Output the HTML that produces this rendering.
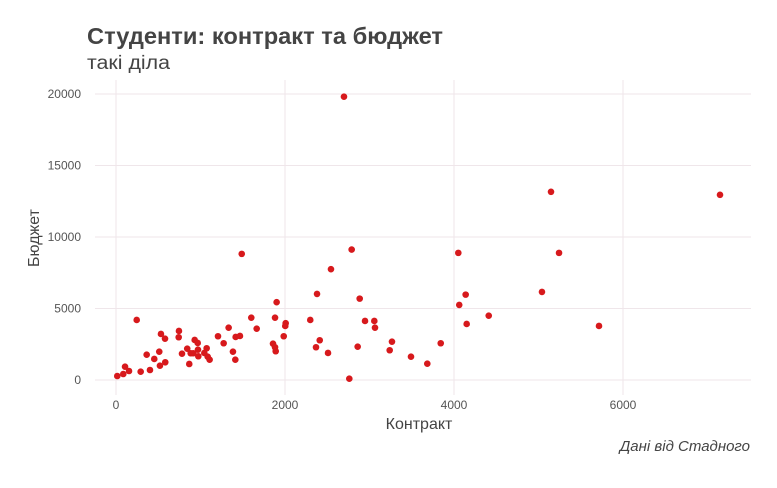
<!DOCTYPE html>
<html><head><meta charset="utf-8"><style>
body{margin:0;background:#fff;}
svg text{font-family:"Liberation Sans",sans-serif;}
</style></head><body>
<svg id="chart" width="777" height="483" viewBox="0 0 777 483" xmlns="http://www.w3.org/2000/svg">
<text x="87" y="44" font-size="23" font-weight="bold" fill="#444" textLength="356" lengthAdjust="spacingAndGlyphs">Студенти: контракт та бюджет</text>
<text x="87" y="69" font-size="19" fill="#444" textLength="83" lengthAdjust="spacingAndGlyphs">такі діла</text>
<g id="grid"></g>
<g id="points"></g>
<g id="ticks"></g>
<text x="419" y="429" font-size="16" fill="#444" text-anchor="middle">Контракт</text>
<text transform="translate(39,238) rotate(-90)" font-size="16" fill="#444" text-anchor="middle">Бюджет</text>
<text x="750" y="451" font-size="15" font-style="italic" fill="#444" text-anchor="end">Дані від Стадного</text>
</svg>
<script>
const xTicks=[0,2000,4000,6000];
const yTicks=[0,5000,10000,15000,20000];
const contract=[15,86,107,154,292,402,245,363,453,512,520,583,532,580,745,742,781,843,867,884,931,967,970,914,974,1045,1073,1085,1108,1207,1274,1333,1384,1412,1416,1467,1488,1601,1665,1882,1901,1858,1882,1890,1985,2008,2003,2789,2544,2379,2884,2299,2947,3057,3065,2411,2367,2509,2860,3266,3239,3491,3684,3843,2761,4051,4138,4062,4411,4150,2698,5148,5243,5041,5716,7148];
const budget=[280,420,930,630,580,700,4200,1770,1470,1980,1000,1240,3220,2890,3430,2990,1840,2190,1120,1870,2800,2590,2120,1870,1660,1890,2220,1630,1420,3060,2570,3660,1980,1420,3010,3080,8820,4360,3590,4360,5440,2540,2290,2010,3060,3970,3780,9120,7750,6020,5690,4200,4130,4130,3660,2780,2290,1890,2330,2680,2080,1630,1140,2570,90,8890,5970,5250,4500,3920,19810,13160,8890,6160,3780,12950];
const NS="http://www.w3.org/2000/svg";
const X=v=>116+v*0.0845;
const Y=v=>380-v*0.0143;
const L=95,R=751,T=80,B=395;
const grid=document.getElementById('grid'),ticks=document.getElementById('ticks'),pts=document.getElementById('points');
function mk(t,a){const e=document.createElementNS(NS,t);for(const k in a)e.setAttribute(k,a[k]);return e;}
xTicks.forEach(v=>{
 const l=mk('line',{x1:X(v),x2:X(v),y1:T,y2:B,stroke:'#efe6ea','stroke-width':1});
 
 
 grid.appendChild(l);
 const t=mk('text',{x:X(v),y:409,'font-size':12,fill:'#555','text-anchor':'middle'});
 
 
 t.textContent=v;ticks.appendChild(t);
});
yTicks.forEach(v=>{
 const l=mk('line',{x1:L,x2:R,y1:Y(v),y2:Y(v),stroke:'#efe6ea','stroke-width':1});
 
 
 grid.appendChild(l);
 const t=mk('text',{x:81,y:Y(v)+4,'font-size':12,fill:'#555','text-anchor':'end'});
 
 
 t.textContent=v;ticks.appendChild(t);
});
contract.forEach((c,i)=>{
 const p=mk('circle',{cx:X(c),cy:Y(budget[i]),r:3.3,fill:'#d7191c'});
 
 
 pts.appendChild(p);
});
</script>
</body></html>
